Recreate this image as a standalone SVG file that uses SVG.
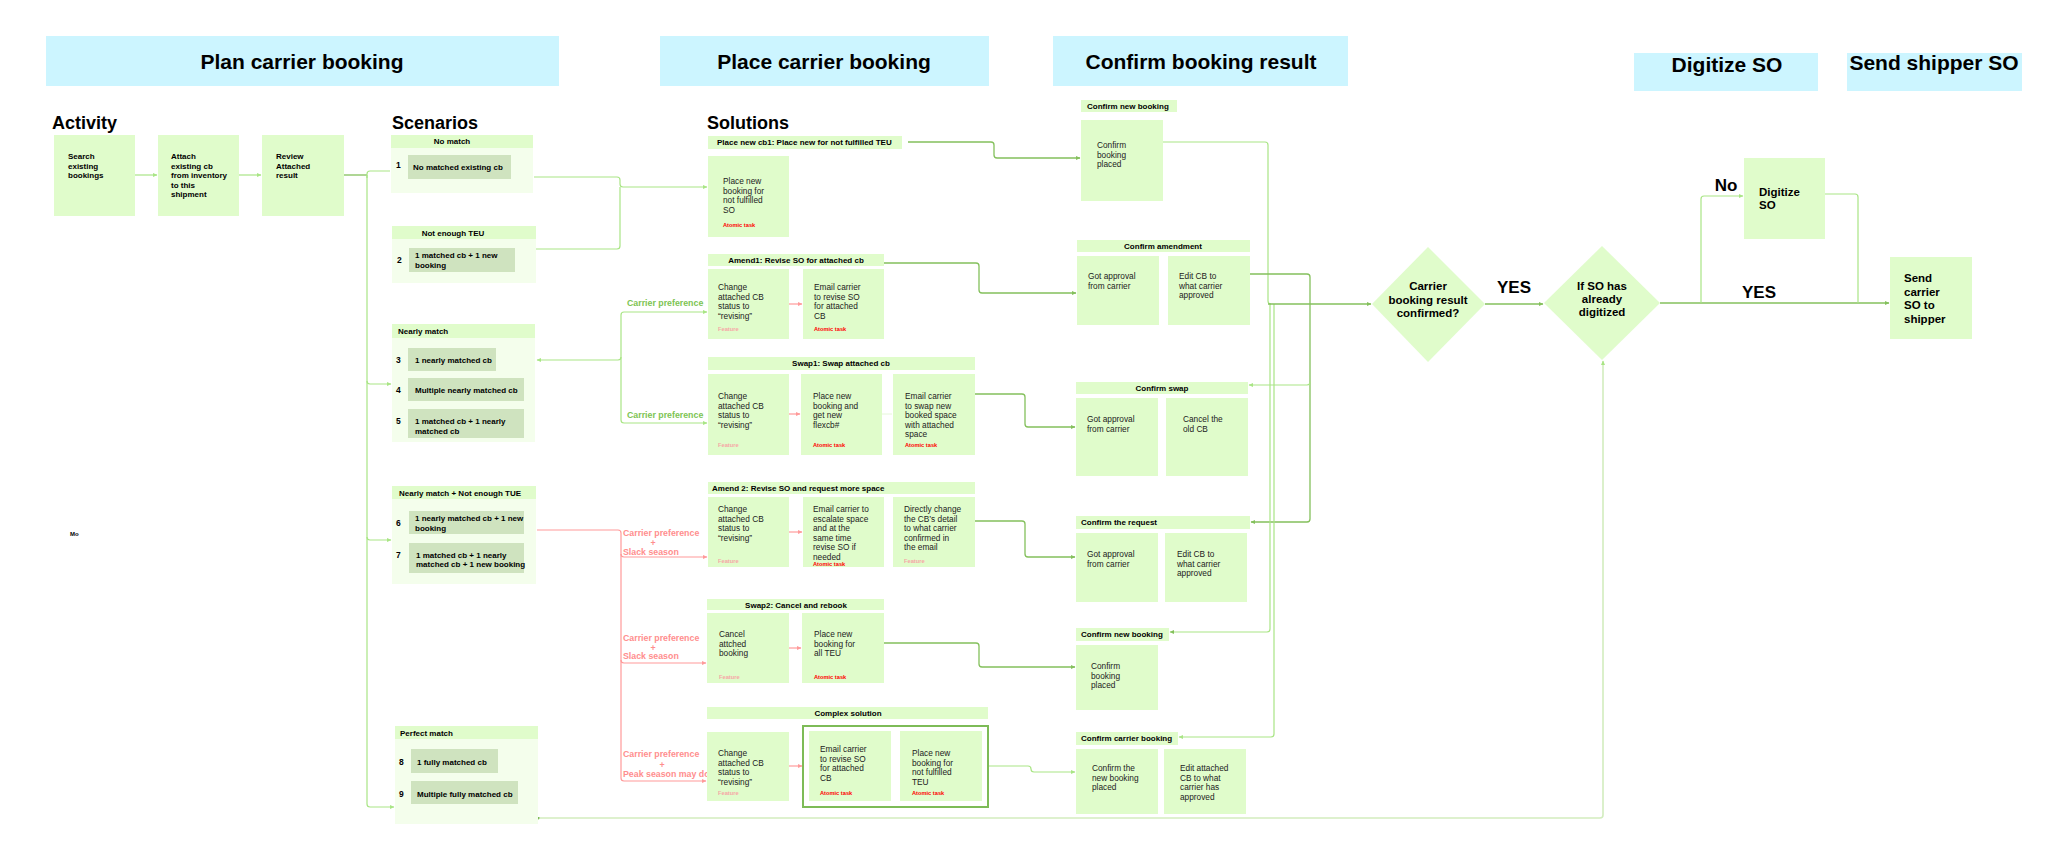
<svg xmlns="http://www.w3.org/2000/svg" width="2048" height="849" viewBox="0 0 2048 849">
<defs>
<marker id="aL" viewBox="0 0 6 6" refX="5" refY="3" markerWidth="5" markerHeight="5" markerUnits="userSpaceOnUse" orient="auto-start-reverse"><path d="M0,0.5 L5.5,3 L0,5.5 z" fill="#A9E585"/></marker>
<marker id="aD" viewBox="0 0 6 6" refX="5" refY="3" markerWidth="5" markerHeight="5" markerUnits="userSpaceOnUse" orient="auto-start-reverse"><path d="M0,0.5 L5.5,3 L0,5.5 z" fill="#84C05C"/></marker>
<marker id="aR" viewBox="0 0 6 6" refX="5" refY="3" markerWidth="5" markerHeight="5" markerUnits="userSpaceOnUse" orient="auto-start-reverse"><path d="M0,0.5 L5.5,3 L0,5.5 z" fill="#FF9A9A"/></marker>
<marker id="dot" viewBox="0 0 4 4" refX="2" refY="2" markerWidth="3" markerHeight="3" markerUnits="userSpaceOnUse"><circle cx="2" cy="2" r="2" fill="#7DBB57"/></marker>
</defs>
<style>
text{font-family:"Liberation Sans",Arial,sans-serif;fill:#000}
.banner{fill:#CCF5FF}
.bt{font-size:21px;font-weight:bold;text-anchor:middle}
.hd{font-size:18px;font-weight:bold}
.box{fill:#E0FCCB}
.cont{fill:#F4FEEC}
.band{fill:#E0FCCB}
.item{fill:#CFE3BF}
.b8{font-size:8px;font-weight:bold}
.num{font-size:8.5px;font-weight:bold}
.c{text-anchor:middle}
.t{font-size:8.3px;fill:#222}
.atom{font-size:5.7px;font-weight:bold;fill:#FF0000}
.feat{font-size:5.7px;font-weight:bold;fill:#F7A6A6}
.pg{font-size:8.8px;font-weight:bold;fill:#7DC453}
.pr{font-size:8.8px;font-weight:bold;fill:#FF8E8E}
.dt{font-size:11.5px;font-weight:bold;text-anchor:middle}
.yes{font-size:17px;font-weight:bold;text-anchor:middle}
.st{font-size:11.5px;font-weight:bold}
.lL{fill:none;stroke:#A9E585;stroke-width:1.2}
.lD{fill:none;stroke:#84C05C;stroke-width:1.3}
.lR{fill:none;stroke:#FF9A9A;stroke-width:1.2}
.lP{fill:none;stroke:#D3EDBF;stroke-width:1.6}
</style>
<rect width="2048" height="849" fill="#FFFFFF"/>

<!-- Banners -->
<g id="banner-plan"><rect class="banner" x="46" y="36" width="513" height="50"/><text class="bt" x="302" y="69">Plan carrier booking</text></g>
<g id="banner-place"><rect class="banner" x="660" y="36" width="329" height="50"/><text class="bt" x="824" y="69">Place carrier booking</text></g>
<g id="banner-confirm"><rect class="banner" x="1053" y="36" width="295" height="50"/><text class="bt" x="1201" y="69">Confirm booking result</text></g>
<g id="banner-digitize"><rect class="banner" x="1634" y="53" width="184" height="38"/><text class="bt" x="1727" y="72">Digitize SO</text></g>
<g id="banner-send"><rect class="banner" x="1847" y="53" width="175" height="38"/><text class="bt" x="1934" y="70">Send shipper SO</text></g>

<text class="hd" x="52" y="129">Activity</text>
<text class="hd" x="392" y="129">Scenarios</text>
<text class="hd" x="707" y="129">Solutions</text>
<text x="70" y="536" style="font-size:6px;font-weight:bold">Mo</text>

<!-- Connectors -->
<g id="connectors">
<path class="lL" d="M135,175 H157" marker-end="url(#aL)"/>
<path class="lL" d="M239,175 H261" marker-end="url(#aL)"/>
<path class="lD" d="M344,175 H367"/>
<path class="lL" d="M367,175 V804 q0,3 3,3 H394" marker-end="url(#aL)"/>
<path class="lL" d="M367,178 V174 q0,-3 3,-3 H390"/>
<path class="lL" d="M367,381 q0,3 3,3 H391" marker-end="url(#aL)"/>
<path class="lL" d="M367,537 q0,3 3,3 H391" marker-end="url(#aL)"/>

<path class="lL" d="M534,177 H617 q3,0 3,3 V184 q0,3 3,3 H707" marker-end="url(#aL)"/>
<path class="lL" d="M536,249 H617 q3,0 3,-3 V187"/>

<path class="lL" d="M707,312 H624 q-3,0 -3,3 V357 q0,3 -3,3 H537" marker-start="url(#aL)" marker-end="url(#aL)"/>
<path class="lL" d="M621,357 V420 q0,3 3,3 H707" marker-end="url(#aL)"/>

<path class="lR" d="M537,530 H618 q3,0 3,3 V778 q0,3 3,3 H706" marker-end="url(#aR)"/>
<path class="lR" d="M621,554 q0,3 3,3 H707" marker-end="url(#aR)"/>
<path class="lR" d="M621,660 q0,3 3,3 H706" marker-end="url(#aR)"/>

<path class="lR" d="M789,304 H802" marker-end="url(#aR)"/>
<path class="lR" d="M789,414 H800" marker-end="url(#aR)"/>
<path fill="none" stroke="#E6F8D8" stroke-width="1" d="M882,414 H892"/>
<path class="lR" d="M789,532 H802" marker-end="url(#aR)"/>
<path class="lR" d="M789,648 H801" marker-end="url(#aR)"/>
<path class="lR" d="M789,766 H802" marker-end="url(#aR)"/>

<path class="lD" d="M908,142 H991 q3,0 3,3 V155 q0,3 3,3 H1080" marker-end="url(#aD)"/>
<path class="lD" d="M884,263 H976 q3,0 3,3 V290 q0,3 3,3 H1076" marker-end="url(#aD)"/>
<path class="lD" d="M975,394 H1022 q3,0 3,3 V424 q0,3 3,3 H1075" marker-end="url(#aD)"/>
<path class="lD" d="M975,521 H1022 q3,0 3,3 V554 q0,3 3,3 H1075" marker-end="url(#aD)"/>
<path class="lD" d="M884,643 H976 q3,0 3,3 V664 q0,3 3,3 H1075" marker-end="url(#aD)"/>
<path class="lL" d="M988,766 H1028 q3,0 3,3 V769 q0,3 3,3 H1075" marker-end="url(#aL)"/>

<path class="lL" d="M1163,142 H1265 q3,0 3,3 V301 q0,3 3,3"/>
<path class="lD" d="M1250,274 H1307 q3,0 3,3 V519 q0,3 -3,3 H1251" marker-end="url(#aD)"/>
<path class="lL" d="M1310,382 q0,3 -3,3 H1249" marker-end="url(#aL)"/>
<path class="lL" d="M1270,304 V629 q0,3 -3,3 H1170" marker-end="url(#aD)"/>
<path class="lL" d="M1274,304 V734 q0,3 -3,3 H1179" marker-end="url(#aL)"/>
<path class="lD" d="M1268,304 H1371" marker-end="url(#aD)"/>

<path class="lD" d="M1485,304 H1543" marker-end="url(#aD)"/>
<path class="lD" d="M1660,303 H1889" marker-end="url(#aD)"/>
<path class="lL" d="M1701,303 V199 q0,-3 3,-3 H1743" marker-end="url(#aL)"/>
<path class="lL" d="M1825,194 H1855 q3,0 3,3 V303"/>
<path class="lP" d="M538,818 H1600 q3,0 3,-3 V361" marker-start="url(#dot)" marker-end="url(#aL)"/>
</g>

<!-- Activity -->
<g id="act-search"><rect class="box" x="54" y="135" width="81" height="81"/><text class="b8"><tspan x="68" y="159">Search</tspan><tspan x="68" y="168.5">existing</tspan><tspan x="68" y="178">bookings</tspan></text></g>
<g id="act-attach"><rect class="box" x="158" y="135" width="81" height="81"/><text class="b8"><tspan x="171" y="159">Attach</tspan><tspan x="171" y="168.5">existing cb</tspan><tspan x="171" y="178">from inventory</tspan><tspan x="171" y="187.5">to this</tspan><tspan x="171" y="197">shipment</tspan></text></g>
<g id="act-review"><rect class="box" x="262" y="135" width="82" height="81"/><text class="b8"><tspan x="276" y="159">Review</tspan><tspan x="276" y="168.5">Attached</tspan><tspan x="276" y="178">result</tspan></text></g>

<!-- Scenarios -->
<g id="sc-nomatch"><rect class="cont" x="391" y="135" width="142" height="58"/><rect class="band" x="391" y="135" width="142" height="13"/><text class="b8 c" x="452" y="144">No match</text>
<text class="num" x="396" y="168">1</text><rect class="item" x="408" y="155" width="103" height="24"/><text class="b8" x="413" y="170">No matched existing cb</text></g>
<g id="sc-notenough"><rect class="cont" x="392" y="226" width="144" height="57"/><rect class="band" x="392" y="226" width="144" height="13"/><text class="b8 c" x="453" y="236">Not enough TEU</text>
<text class="num" x="397" y="263">2</text><rect class="item" x="409" y="248" width="106" height="24"/><text class="b8"><tspan x="415" y="258">1 matched cb + 1 new</tspan><tspan x="415" y="268">booking</tspan></text></g>
<g id="sc-nearly"><rect class="cont" x="392" y="324" width="143" height="118"/><rect class="band" x="392" y="324" width="143" height="14"/><text class="b8" x="398" y="334">Nearly match</text>
<text class="num" x="396" y="363">3</text><rect class="item" x="408" y="348" width="88" height="23"/><text class="b8" x="415" y="363">1 nearly matched cb</text>
<text class="num" x="396" y="393">4</text><rect class="item" x="408" y="378" width="116" height="23"/><text class="b8" x="415" y="393">Multiple nearly matched cb</text>
<text class="num" x="396" y="424">5</text><rect class="item" x="408" y="409" width="116" height="29"/><text class="b8"><tspan x="415" y="424">1 matched cb + 1 nearly</tspan><tspan x="415" y="433.5">matched cb</tspan></text></g>
<g id="sc-nearly-notenough"><rect class="cont" x="392" y="486" width="144" height="98"/><rect class="band" x="392" y="486" width="144" height="13"/><text class="b8" x="399" y="496">Nearly match + Not enough TUE</text>
<text class="num" x="396" y="526">6</text><rect class="item" x="409" y="511" width="115" height="23"/><text class="b8"><tspan x="415" y="521">1 nearly matched cb + 1 new</tspan><tspan x="415" y="530.5">booking</tspan></text>
<text class="num" x="396" y="558">7</text><rect class="item" x="409" y="543" width="115" height="30"/><text class="b8"><tspan x="416" y="558">1 matched cb + 1 nearly</tspan><tspan x="416" y="566.5">matched cb + 1 new booking</tspan></text></g>
<g id="sc-perfect"><rect class="cont" x="395" y="726" width="143" height="98"/><rect class="band" x="395" y="726" width="143" height="13"/><text class="b8" x="400" y="736">Perfect match</text>
<text class="num" x="399" y="765">8</text><rect class="item" x="411" y="749" width="87" height="24"/><text class="b8" x="417" y="765">1 fully matched cb</text>
<text class="num" x="399" y="797">9</text><rect class="item" x="411" y="781" width="107" height="23"/><text class="b8" x="417" y="797">Multiple fully matched cb</text></g>

<!-- Preference labels -->
<g id="labels">
<text class="pg" x="627" y="306">Carrier preference</text>
<text class="pg" x="627" y="418">Carrier preference</text>
<text class="pr" x="623" y="536">Carrier preference</text><text class="pr c" x="653" y="546">+</text><text class="pr" x="623" y="555">Slack season</text>
<text class="pr" x="623" y="641">Carrier preference</text><text class="pr c" x="653" y="651">+</text><text class="pr" x="623" y="659">Slack season</text>
<text class="pr" x="623" y="757">Carrier preference</text><text class="pr c" x="662" y="768">+</text><text class="pr" x="623" y="777">Peak season may do</text>
</g>

<!-- Solutions -->
<g id="sol-placenew"><rect class="band" x="708" y="136" width="194" height="13"/><text class="b8" x="717" y="145">Place new cb1: Place new for not fulfilled TEU</text>
<rect class="box" x="708" y="156" width="81" height="81"/><text class="t"><tspan x="723" y="184">Place new</tspan><tspan x="723" y="193.5">booking for</tspan><tspan x="723" y="203">not fulfilled</tspan><tspan x="723" y="212.5">SO</tspan></text><text class="atom" x="723" y="227">Atomic task</text></g>

<g id="sol-amend1"><rect class="band" x="708" y="254" width="176" height="12"/><text class="b8 c" x="796" y="263">Amend1: Revise SO for attached cb</text>
<rect class="box" x="708" y="269" width="81" height="70"/><text class="t"><tspan x="718" y="290">Change</tspan><tspan x="718" y="299.5">attached CB</tspan><tspan x="718" y="309">status to</tspan><tspan x="718" y="318.5">“revising”</tspan></text><text class="feat" x="718" y="331">Feature</text>
<rect class="box" x="803" y="269" width="81" height="70"/><text class="t"><tspan x="814" y="290">Email carrier</tspan><tspan x="814" y="299.5">to revise SO</tspan><tspan x="814" y="309">for attached</tspan><tspan x="814" y="318.5">CB</tspan></text><text class="atom" x="814" y="331">Atomic task</text></g>

<g id="sol-swap1"><rect class="band" x="708" y="357" width="267" height="13"/><text class="b8 c" x="841" y="366">Swap1: Swap attached cb</text>
<rect class="box" x="708" y="374" width="81" height="81"/><text class="t"><tspan x="718" y="399">Change</tspan><tspan x="718" y="408.5">attached CB</tspan><tspan x="718" y="418">status to</tspan><tspan x="718" y="427.5">“revising”</tspan></text><text class="feat" x="718" y="447">Feature</text>
<rect class="box" x="801" y="374" width="81" height="81"/><text class="t"><tspan x="813" y="399">Place new</tspan><tspan x="813" y="408.5">booking and</tspan><tspan x="813" y="418">get new</tspan><tspan x="813" y="427.5">flexcb#</tspan></text><text class="atom" x="813" y="447">Atomic task</text>
<rect class="box" x="893" y="374" width="82" height="81"/><text class="t"><tspan x="905" y="399">Email carrier</tspan><tspan x="905" y="408.5">to swap new</tspan><tspan x="905" y="418">booked space</tspan><tspan x="905" y="427.5">with attached</tspan><tspan x="905" y="437">space</tspan></text><text class="atom" x="905" y="447">Atomic task</text></g>

<g id="sol-amend2"><rect class="band" x="708" y="482" width="267" height="12"/><text class="b8" x="712" y="491">Amend 2: Revise SO and request more space</text>
<rect class="box" x="708" y="497" width="81" height="70"/><text class="t"><tspan x="718" y="512">Change</tspan><tspan x="718" y="521.5">attached CB</tspan><tspan x="718" y="531">status to</tspan><tspan x="718" y="540.5">“revising”</tspan></text><text class="feat" x="718" y="563">Feature</text>
<rect class="box" x="803" y="497" width="81" height="70"/><text class="t"><tspan x="813" y="512">Email carrier to</tspan><tspan x="813" y="521.5">escalate space</tspan><tspan x="813" y="531">and at the</tspan><tspan x="813" y="540.5">same time</tspan><tspan x="813" y="550">revise SO if</tspan><tspan x="813" y="559.5">needed</tspan></text><text class="atom" x="813" y="566">Atomic task</text>
<rect class="box" x="893" y="497" width="82" height="70"/><text class="t"><tspan x="904" y="512">Directly change</tspan><tspan x="904" y="521.5">the CB’s detail</tspan><tspan x="904" y="531">to what carrier</tspan><tspan x="904" y="540.5">confirmed in</tspan><tspan x="904" y="550">the email</tspan></text><text class="feat" x="904" y="563">Feature</text></g>

<g id="sol-swap2"><rect class="band" x="707" y="599" width="177" height="11"/><text class="b8 c" x="796" y="607.5">Swap2: Cancel and rebook</text>
<rect class="box" x="707" y="613" width="82" height="70"/><text class="t"><tspan x="719" y="637">Cancel</tspan><tspan x="719" y="646.5">attched</tspan><tspan x="719" y="656">booking</tspan></text><text class="feat" x="719" y="679">Feature</text>
<rect class="box" x="802" y="613" width="82" height="70"/><text class="t"><tspan x="814" y="637">Place new</tspan><tspan x="814" y="646.5">booking for</tspan><tspan x="814" y="656">all TEU</tspan></text><text class="atom" x="814" y="679">Atomic task</text></g>

<g id="sol-complex"><rect class="band" x="707" y="707" width="281" height="12"/><text class="b8 c" x="848" y="716">Complex solution</text>
<rect class="box" x="707" y="732" width="82" height="69"/><text class="t"><tspan x="718" y="756">Change</tspan><tspan x="718" y="765.5">attached CB</tspan><tspan x="718" y="775">status to</tspan><tspan x="718" y="784.5">“revising”</tspan></text><text class="feat" x="718" y="795">Feature</text>
<rect x="803" y="726" width="185" height="81" fill="#FFFFFF" stroke="#7DBB57" stroke-width="2"/>
<rect class="box" x="809" y="731" width="82" height="70"/><text class="t"><tspan x="820" y="752">Email carrier</tspan><tspan x="820" y="761.5">to revise SO</tspan><tspan x="820" y="771">for attached</tspan><tspan x="820" y="780.5">CB</tspan></text><text class="atom" x="820" y="795">Atomic task</text>
<rect class="box" x="900" y="731" width="82" height="70"/><text class="t"><tspan x="912" y="756">Place new</tspan><tspan x="912" y="765.5">booking for</tspan><tspan x="912" y="775">not fulfilled</tspan><tspan x="912" y="784.5">TEU</tspan></text><text class="atom" x="912" y="795">Atomic task</text></g>

<!-- Confirm column -->
<g id="cf-newbooking1"><rect class="band" x="1081" y="100" width="96" height="12"/><text class="b8" x="1087" y="109">Confirm new booking</text>
<rect class="box" x="1081" y="120" width="82" height="81"/><text class="t"><tspan x="1097" y="148">Confirm</tspan><tspan x="1097" y="157.5">booking</tspan><tspan x="1097" y="167">placed</tspan></text></g>

<g id="cf-amendment"><rect class="band" x="1077" y="240" width="173" height="12"/><text class="b8 c" x="1163" y="249">Confirm amendment</text>
<rect class="box" x="1077" y="256" width="82" height="69"/><text class="t"><tspan x="1088" y="279">Got approval</tspan><tspan x="1088" y="288.5">from carrier</tspan></text>
<rect class="box" x="1168" y="256" width="82" height="69"/><text class="t"><tspan x="1179" y="279">Edit CB to</tspan><tspan x="1179" y="288.5">what carrier</tspan><tspan x="1179" y="298">approved</tspan></text></g>

<g id="cf-swap"><rect class="band" x="1076" y="382" width="172" height="12"/><text class="b8 c" x="1162" y="391">Confirm swap</text>
<rect class="box" x="1076" y="398" width="82" height="78"/><text class="t"><tspan x="1087" y="422">Got approval</tspan><tspan x="1087" y="431.5">from carrier</tspan></text>
<rect class="box" x="1166" y="398" width="82" height="78"/><text class="t"><tspan x="1183" y="422">Cancel the</tspan><tspan x="1183" y="431.5">old CB</tspan></text></g>

<g id="cf-request"><rect class="band" x="1076" y="516" width="174" height="13"/><text class="b8" x="1081" y="525">Confirm the request</text>
<rect class="box" x="1076" y="533" width="82" height="69"/><text class="t"><tspan x="1087" y="557">Got approval</tspan><tspan x="1087" y="566.5">from carrier</tspan></text>
<rect class="box" x="1165" y="533" width="82" height="69"/><text class="t"><tspan x="1177" y="557">Edit CB to</tspan><tspan x="1177" y="566.5">what carrier</tspan><tspan x="1177" y="576">approved</tspan></text></g>

<g id="cf-newbooking2"><rect class="band" x="1076" y="628" width="93" height="13"/><text class="b8" x="1081" y="637">Confirm new booking</text>
<rect class="box" x="1076" y="645" width="82" height="65"/><text class="t"><tspan x="1091" y="669">Confirm</tspan><tspan x="1091" y="678.5">booking</tspan><tspan x="1091" y="688">placed</tspan></text></g>

<g id="cf-carrier"><rect class="band" x="1076" y="732" width="102" height="13"/><text class="b8" x="1081" y="741">Confirm carrier booking</text>
<rect class="box" x="1076" y="749" width="82" height="65"/><text class="t"><tspan x="1092" y="771">Confirm the</tspan><tspan x="1092" y="780.5">new booking</tspan><tspan x="1092" y="790">placed</tspan></text>
<rect class="box" x="1164" y="749" width="82" height="65"/><text class="t"><tspan x="1180" y="771">Edit attached</tspan><tspan x="1180" y="780.5">CB to what</tspan><tspan x="1180" y="790">carrier has</tspan><tspan x="1180" y="799.5">approved</tspan></text></g>

<!-- Decisions -->
<g id="dec-confirmed"><polygon points="1428,247 1485,304 1428,362 1372,304" fill="#E0FCCB"/><text class="dt"><tspan x="1428" y="290">Carrier</tspan><tspan x="1428" y="304">booking result</tspan><tspan x="1428" y="317">confirmed?</tspan></text></g>
<g id="dec-digitized"><polygon points="1602,246 1660,303 1602,360 1544,303" fill="#E0FCCB"/><text class="dt"><tspan x="1602" y="290">If SO has</tspan><tspan x="1602" y="303">already</tspan><tspan x="1602" y="316">digitized</tspan></text></g>
<text class="yes" x="1514" y="293">YES</text>
<text class="yes" x="1726" y="191">No</text>
<text class="yes" x="1759" y="298">YES</text>

<g id="node-digitize"><rect class="box" x="1744" y="158" width="81" height="81"/><text class="st"><tspan x="1759" y="196">Digitize</tspan><tspan x="1759" y="209">SO</tspan></text></g>
<g id="node-send"><rect class="box" x="1890" y="257" width="82" height="82"/><text class="st"><tspan x="1904" y="282">Send</tspan><tspan x="1904" y="296">carrier</tspan><tspan x="1904" y="309">SO to</tspan><tspan x="1904" y="323">shipper</tspan></text></g>
</svg>
